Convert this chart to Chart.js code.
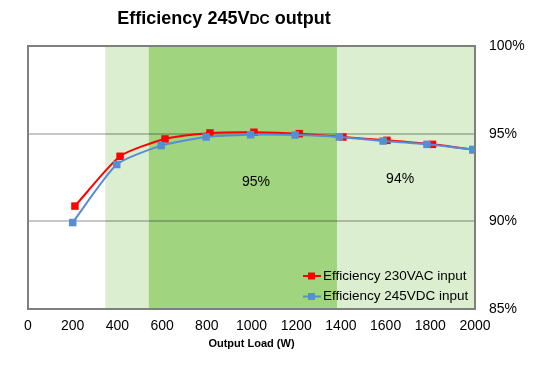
<!DOCTYPE html>
<html lang="en">
<head>
  <meta charset="UTF-8">
  <title>Efficiency 245VDC output</title>
  <style>
    body {
      margin: 0;
      padding: 0;
      background: #fff;
      font-family: "Liberation Sans", Arial, sans-serif;
    }
    .wrap {
      position: relative;
      width: 534px;
      height: 378px;
    }
    .title {
      position: absolute;
      left: 0;
      top: 8px;
      width: 448px;
      text-align: center;
      font-size: 18px;
      font-weight: bold;
      color: #000;
    }
    .title span {
      font-size: 14px;
    }
  </style>
</head>
<body>
  <div class="wrap">
    <div class="title">Efficiency 245V<span>DC</span> output</div>
    <canvas id="chart" width="534" height="378"></canvas>
  </div>

  <script src="https://cdn.jsdelivr.net/npm/chart.js"></script>
  <script>
    // values
    const loadAC = [210, 412, 613, 814, 1011, 1214, 1409, 1606, 1810, 1990];
    const effAC = [90.87, 93.71, 94.70, 95.04, 95.08, 95.00, 94.81, 94.62, 94.39, 94.09];
    const loadDC = [200, 397, 596, 797, 996, 1195, 1393, 1589, 1785, 1990];
    const effDC = [89.93, 93.24, 94.32, 94.81, 94.94, 94.92, 94.81, 94.58, 94.39, 94.09];

    const seriesNames = ['Efficiency 230VAC input', 'Efficiency 245VDC input'];
    const seriesColors = ['#ff0000', '#558ed5'];

    const xTicks = [0, 200, 400, 600, 800, 1000, 1200, 1400, 1600, 1800, 2000];
    const yTicks = [85, 90, 95, 100];

    // shaded load bands
    const bandFrom = [346, 540, 1383];
    const bandTo = [540, 1383, 2000];
    const bandLabels = ['', '95%', '94%'];
    const bandLabelX = [0, 1020, 1665];
    const bandLabelY = [0, 92.23, 92.39];
    const bandColors = ['#dbeecf', '#a0d47f', '#dbeecf'];

    const toXY = (xs, ys) => xs.map((x, i) => ({ x: x, y: ys[i] }));
    const FONT = '"Liberation Sans", Arial, sans-serif';

    const bands = {
      id: 'bands',
      beforeDraw(chart) {
        const { ctx, chartArea: a, scales: { x } } = chart;
        ctx.save();
        bandFrom.forEach((f, i) => {
          const x0 = x.getPixelForValue(f);
          const x1 = x.getPixelForValue(bandTo[i]);
          ctx.fillStyle = bandColors[i];
          ctx.fillRect(x0, a.top, x1 - x0, a.bottom - a.top);
        });
        ctx.restore();
      },
      afterDatasetsDraw(chart) {
        const { ctx, chartArea: a, scales: { x, y } } = chart;
        ctx.save();
        ctx.font = '14px ' + FONT;
        ctx.fillStyle = '#000';
        ctx.textAlign = 'center';
        ctx.textBaseline = 'middle';
        bandLabels.forEach((t, i) => {
          if (!t) return;
          ctx.fillText(t, x.getPixelForValue(bandLabelX[i]), y.getPixelForValue(bandLabelY[i]));
        });
        // plot border
        ctx.strokeStyle = '#7f7f7f';
        ctx.lineWidth = 2;
        ctx.strokeRect(a.left, a.top, a.right - a.left, a.bottom - a.top);

        // legend, bottom right inside plot
        ctx.font = '13.5px ' + FONT;
        ctx.textAlign = 'left';
        seriesNames.forEach((n, i) => {
          const ly = 276 + i * 20.5;
          ctx.strokeStyle = seriesColors[i];
          ctx.lineWidth = 2;
          ctx.beginPath();
          ctx.moveTo(303, ly);
          ctx.lineTo(321, ly);
          ctx.stroke();
          ctx.fillStyle = seriesColors[i];
          ctx.fillRect(308, ly - 3.5, 7, 7);
          ctx.fillStyle = '#000';
          ctx.fillText(n, 323, ly);
        });
        ctx.restore();
      }
    };

    new Chart(document.getElementById('chart'), {
      type: 'scatter',
      data: {
        datasets: [
          {
            label: seriesNames[1],
            data: toXY(loadDC, effDC),
            showLine: true,
            borderColor: seriesColors[1],
            backgroundColor: seriesColors[1],
            borderWidth: 2,
            pointStyle: 'rect',
            pointRadius: 5.3,
            pointBorderWidth: 0,
            tension: 0.2,
            order: 1
          },
          {
            label: seriesNames[0],
            data: toXY(loadAC, effAC),
            showLine: true,
            borderColor: seriesColors[0],
            backgroundColor: seriesColors[0],
            borderWidth: 2,
            pointStyle: 'rect',
            pointRadius: 5.3,
            pointBorderWidth: 0,
            tension: 0.2,
            order: 2
          }
        ]
      },
      options: {
        responsive: false,
        animation: false,
        layout: { padding: { left: 28, top: 46, right: 0, bottom: 0 } },
        plugins: {
          legend: { display: false },
          tooltip: { enabled: false }
        },
        scales: {
          x: {
            type: 'linear',
            min: 0,
            max: 2000,
            afterBuildTicks: s => { s.ticks = xTicks.map(v => ({ value: v })); },
            afterFit: s => { s.height = 69; },
            grid: { display: false, drawTicks: false },
            border: { display: false },
            ticks: {
              color: '#000',
              padding: 9,
              maxRotation: 0,
              callback: v => String(v),
              font: { family: FONT, size: 14 }
            },
            title: {
              display: true,
              text: 'Output Load (W)',
              color: '#000',
              padding: { top: 4, bottom: 27 },
              font: { family: FONT, size: 11, weight: 'bold' }
            }
          },
          y: {
            position: 'right',
            min: 85,
            max: 100,
            afterBuildTicks: s => { s.ticks = yTicks.map(v => ({ value: v })); },
            afterFit: s => { s.width = 59; },
            grid: {
              drawTicks: false,
              color: ctx => (ctx.tick.value === 90 || ctx.tick.value === 95) ? 'rgba(0,0,0,0.22)' : 'rgba(0,0,0,0)',
              lineWidth: 2
            },
            border: { display: false },
            ticks: {
              color: '#000',
              padding: 14,
              callback: v => v + '%',
              font: { family: FONT, size: 14 }
            }
          }
        }
      },
      plugins: [bands]
    });
  </script>
</body>
</html>
